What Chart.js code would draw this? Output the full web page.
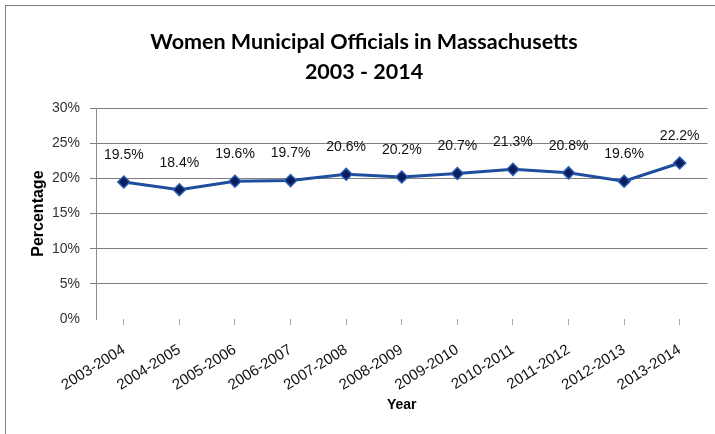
<!DOCTYPE html>
<html>
<head>
<meta charset="utf-8">
<script src="https://cdn.jsdelivr.net/npm/chart.js@4/dist/chart.umd.min.js"></script>
<style>
html,body{margin:0;padding:0;background:#fff;}
#wrap{position:relative;width:715px;height:434px;}
</style>
</head>
<body>
<div id="wrap"><canvas id="c" width="715" height="434"></canvas></div>
<script>
const categories = ["2003-2004","2004-2005","2005-2006","2006-2007","2007-2008","2008-2009","2009-2010","2010-2011","2011-2012","2012-2013","2013-2014"];
const percentages = [19.5, 18.4, 19.6, 19.7, 20.6, 20.2, 20.7, 21.3, 20.8, 19.6, 22.2];
const yTicks = [0, 5, 10, 15, 20, 25, 30];
const titleLines = ["Women Municipal Officials in Massachusetts", "2003 - 2014"];

const frame = {
  id: 'frame',
  beforeDraw(chart) {
    const ctx = chart.ctx;
    ctx.save();
    ctx.fillStyle = '#fff';
    ctx.fillRect(0, 0, chart.width, chart.height);
    ctx.strokeStyle = '#7f7f7f';
    ctx.lineWidth = 1;
    ctx.strokeRect(5.5, 5.5, 760, 480);
    ctx.restore();
  }
};

const dataLabels = {
  id: 'dataLabels',
  afterDatasetsDraw(chart) {
    const ctx = chart.ctx;
    const meta = chart.getDatasetMeta(0);
    ctx.save();
    ctx.font = '14px "Liberation Sans Narrow", "Liberation Sans", sans-serif';
    ctx.fillStyle = '#111';
    ctx.textAlign = 'center';
    ctx.textBaseline = 'middle';
    meta.data.forEach((pt, i) => {
      ctx.fillText(percentages[i].toFixed(1) + '%', pt.x, pt.y - 27);
    });
    ctx.restore();
  }
};

new Chart(document.getElementById('c'), {
  type: 'line',
  data: {
    labels: categories,
    datasets: [{
      data: percentages,
      borderColor: '#1F4E9E',
      borderWidth: 3,
      tension: 0,
      pointStyle: 'rectRot',
      pointRadius: 6,
      pointHoverRadius: 6,
      pointBackgroundColor: '#0B1D5C',
      pointBorderColor: '#2A5CB0',
      pointBorderWidth: 1.5
    }]
  },
  options: {
    responsive: false,
    animation: false,
    devicePixelRatio: 1,
    layout: { padding: { left: 16, right: 3, top: 5, bottom: 0 } },
    plugins: {
      legend: { display: false },
      tooltip: { enabled: false },
      title: {
        display: true,
        text: titleLines,
        color: '#000',
        font: { family: 'Lato, "Open Sans", sans-serif', size: 21.5, weight: 'bold', lineHeight: 1.4 },
        padding: { top: 22, bottom: 21 }
      }
    },
    scales: {
      x: {
        offset: true,
        grid: { display: true, drawOnChartArea: false, offset: false, tickLength: 6, color: '#a6a6a6' },
        border: { display: false },
        ticks: {
          minRotation: 32, maxRotation: 32, autoSkip: false,
          color: '#111',
          font: { family: '"Liberation Sans", sans-serif', size: 15 },
          padding: 16
        },
        title: {
          display: true, text: 'Year', color: '#000',
          font: { family: '"Liberation Sans", sans-serif', size: 14, weight: 'bold' },
          padding: { top: 4, bottom: 20 }
        },
        afterFit(scale) { scale.height = 115; }
      },
      y: {
        min: 0, max: 30,
        afterBuildTicks(scale) { scale.ticks = yTicks.map(v => ({ value: v })); },
        grid: {
          color: ctx => (ctx.tick && ctx.tick.value === 0) ? 'rgba(0,0,0,0)' : '#7f7f7f',
          tickLength: 6
        },
        border: { display: true, color: '#8c8c8c' },
        ticks: {
          color: '#333',
          font: { family: '"Liberation Sans", sans-serif', size: 14 },
          padding: 10,
          callback: v => v + '%'
        },
        title: {
          display: true, text: 'Percentage', color: '#000',
          font: { family: '"Liberation Sans", sans-serif', size: 16, weight: 'bold' },
          padding: { top: 13, bottom: 4 }
        },
        afterFit(scale) { scale.width = 80; }
      }
    }
  },
  plugins: [frame, dataLabels]
});
</script>
</body>
</html>
